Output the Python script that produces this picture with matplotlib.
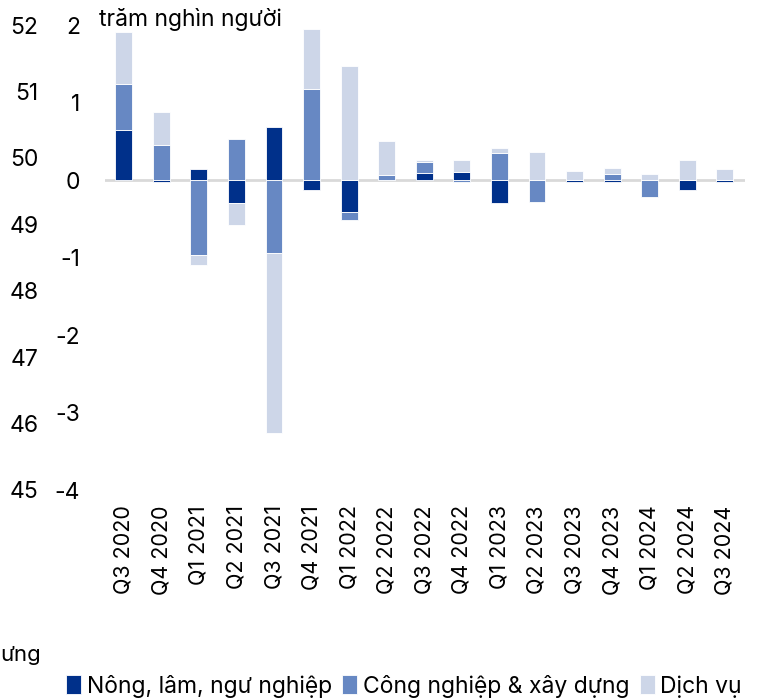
import matplotlib.pyplot as plt
import numpy as np

plt.rcParams['font.family'] = ['Inter', 'DejaVu Sans']
plt.rcParams['axes.unicode_minus'] = False

quarters = ["Q3 2020", "Q4 2020", "Q1 2021", "Q2 2021", "Q3 2021", "Q4 2021",
            "Q1 2022", "Q2 2022", "Q3 2022", "Q4 2022", "Q1 2023", "Q2 2023",
            "Q3 2023", "Q4 2023", "Q1 2024", "Q2 2024", "Q3 2024"]

# thay đổi lao động theo ngành (trăm nghìn người)
nong_nghiep = [0.645, -0.02, 0.14, -0.30, 0.685, -0.13, -0.41, 0.0, 0.09, 0.107,
               -0.30, 0.0, -0.03, -0.03, 0.0, -0.13, -0.02]
cong_nghiep = [0.59, 0.45, -0.97, 0.525, -0.94, 1.175, -0.105, 0.065, 0.145, -0.02,
               0.35, -0.28, 0.0, 0.08, -0.215, 0.0, 0.0]
dich_vu = [0.68, 0.43, -0.12, -0.285, -2.33, 0.78, 1.475, 0.445, 0.03, 0.147,
           0.06, 0.36, 0.116, 0.08, 0.085, 0.26, 0.14]

series = [
    ("Nông, lâm, ngư nghiệp", nong_nghiep, "#00308A"),
    ("Công nghiệp & xây dựng", cong_nghiep, "#6788C3"),
    ("Dịch vụ", dich_vu, "#CDD6E8"),
]

fig = plt.figure(figsize=(7.58, 7.0), dpi=100)
ax = fig.add_axes([0.1385, 0.30, 0.845, 0.664])

x = np.arange(len(quarters))
pos_base = np.zeros(len(quarters))
neg_base = np.zeros(len(quarters))
for name, vals, color in series:
    v = np.array(vals)
    base = np.where(v >= 0, pos_base, neg_base)
    ax.bar(x, v, 0.45, bottom=base, color=color, label=name,
           edgecolor="white", linewidth=0.6, zorder=3)
    pos_base += np.where(v >= 0, v, 0)
    neg_base += np.where(v < 0, v, 0)

ax.axhline(0, color="#D9D9D9", linewidth=2, zorder=2)
ax.set_ylim(-4, 2)
ax.set_xlim(-0.5, len(quarters) - 0.45)
ax.set_yticks(range(-4, 3))
ax.set_xticks(x)
ax.set_xticklabels(quarters, rotation=90, fontsize=15.5)
ax.tick_params(axis="y", length=0, pad=18, labelsize=16.5)
ax.tick_params(axis="x", length=0, pad=11)
for s in ax.spines.values():
    s.set_visible(False)

ax2 = ax.twinx()
ax2.set_ylim(45, 52)
ax2.set_yticks(range(45, 53))
ax2.yaxis.tick_left()
ax2.tick_params(axis="y", length=0, pad=48, labelsize=16.5)
for s in ax2.spines.values():
    s.set_visible(False)

fig.text(0.130, 0.972, "trăm nghìn người", fontsize=16.5, va="center", ha="left")
fig.text(0.0, 1 - 655 / 700, "ưng", fontsize=16, va="center", ha="left")

handles, labels = ax.get_legend_handles_labels()
fig.legend(handles, labels, loc="center", bbox_to_anchor=(0.533, 1 - 686 / 700),
           ncol=3, frameon=False, fontsize=16.5, handlelength=0.65, handleheight=0.9,
           handletextpad=0.25, columnspacing=0.45, borderaxespad=0)

fig.savefig("out.png", dpi=100)
